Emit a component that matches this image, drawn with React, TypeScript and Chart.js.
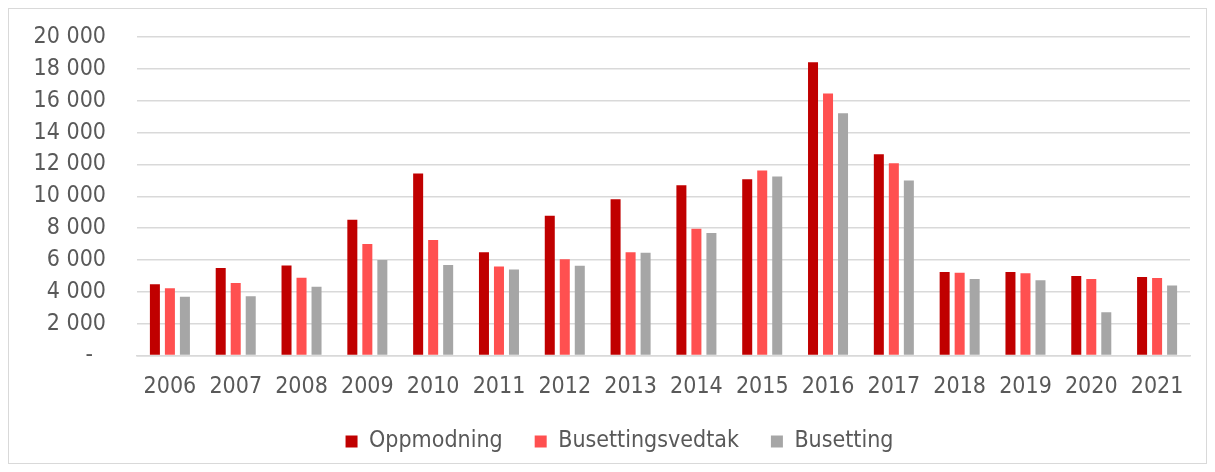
import React, { useEffect, useRef } from "react";
import { Chart, registerables } from "chart.js";

Chart.register(...registerables);

const years = ["2006", "2007", "2008", "2009", "2010", "2011", "2012", "2013", "2014", "2015", "2016", "2017", "2018", "2019", "2020", "2021"];
const oppmodning = [4475, 5500, 5650, 8530, 11430, 6490, 8780, 9810, 10690, 11070, 18420, 12630, 5250, 5250, 5000, 4935];
const busettingsvedtak = [4220, 4560, 4890, 7000, 7250, 5590, 6050, 6490, 7960, 11620, 16450, 12080, 5190, 5170, 4810, 4870];
const busetting = [3690, 3720, 4320, 5990, 5690, 5400, 5630, 6450, 7690, 11240, 15210, 10990, 4810, 4730, 2710, 4390];

const FONT = "'DejaVu Sans Condensed', 'DejaVu Sans', Tahoma, sans-serif";
const FONT_SIZE = 23;
const TEXT = "#595959";
const GRID = "#d9d9d9";

function fmt(v: number): string {
  if (v === 0) return "-  ";
  return String(v).replace(/\B(?=(\d{3})+(?!\d))/g, " ");
}

const legendPlugin = {
  id: "legendTweak",
  beforeLayout(chart: any) {
    const lg = chart.legend;
    if (lg && !lg._patched) {
      lg._patched = true;
      lg.afterFit = function () {
        this.height = 66.5;
      };
    }
  },
  afterLayout(chart: any) {
    const lg = chart.legend;
    if (lg) {
      lg.left += 10;
      lg.right += 10;
    }
  },
};

export default function App() {
  const ref = useRef<HTMLCanvasElement | null>(null);
  useEffect(() => {
    if (!ref.current) return;
    const chart = new Chart(ref.current, {
      type: "bar",
      data: {
        labels: years,
        datasets: [
          { label: "Oppmodning", data: oppmodning, backgroundColor: "#c00000", categoryPercentage: 0.684, barPercentage: 0.667 },
          { label: "Busettingsvedtak", data: busettingsvedtak, backgroundColor: "#ff5050", categoryPercentage: 0.684, barPercentage: 0.667 },
          { label: "Busetting", data: busetting, backgroundColor: "#a6a6a6", categoryPercentage: 0.684, barPercentage: 0.667 },
        ],
      },
      plugins: [legendPlugin],
      options: {
        animation: false,
        responsive: false,
        maintainAspectRatio: false,
        layout: { padding: { left: 20, right: 16, top: 28, bottom: 0 } },
        plugins: {
          tooltip: { enabled: false },
          legend: {
            position: "bottom",
            labels: {
              color: TEXT,
              font: { family: FONT, size: FONT_SIZE },
              boxWidth: 12,
              boxHeight: 12,
              padding: 32,
            },
          },
        },
        scales: {
          x: {
            grid: { display: false, drawTicks: false },
            border: { display: true, color: GRID, width: 1.5 },
            ticks: { color: TEXT, font: { family: FONT, size: FONT_SIZE }, padding: 18, maxRotation: 0, autoSkip: false },
            afterFit: (s: any) => {
              s.height = 42.5;
              s.paddingLeft = 0;
              s.paddingRight = 0;
            },
          },
          y: {
            min: 0,
            max: 20000,
            grid: { color: GRID, lineWidth: 1.5, drawTicks: false },
            border: { display: false },
            ticks: {
              stepSize: 2000,
              color: TEXT,
              font: { family: FONT, size: FONT_SIZE },
              padding: 31,
              callback: (v: any) => fmt(Number(v)),
            },
            afterFit: (s: any) => {
              s.width = 108;
              s.paddingTop = 0;
              s.paddingBottom = 0;
            },
          },
        },
      },
    });
    return () => chart.destroy();
  }, []);
  return (
    <div style={{ width: 1199, height: 456, boxSizing: "border-box", border: "1px solid #d9d9d9", background: "#fff" }}>
      <canvas ref={ref} width={1197} height={454} style={{ display: "block" }} />
    </div>
  );
}
